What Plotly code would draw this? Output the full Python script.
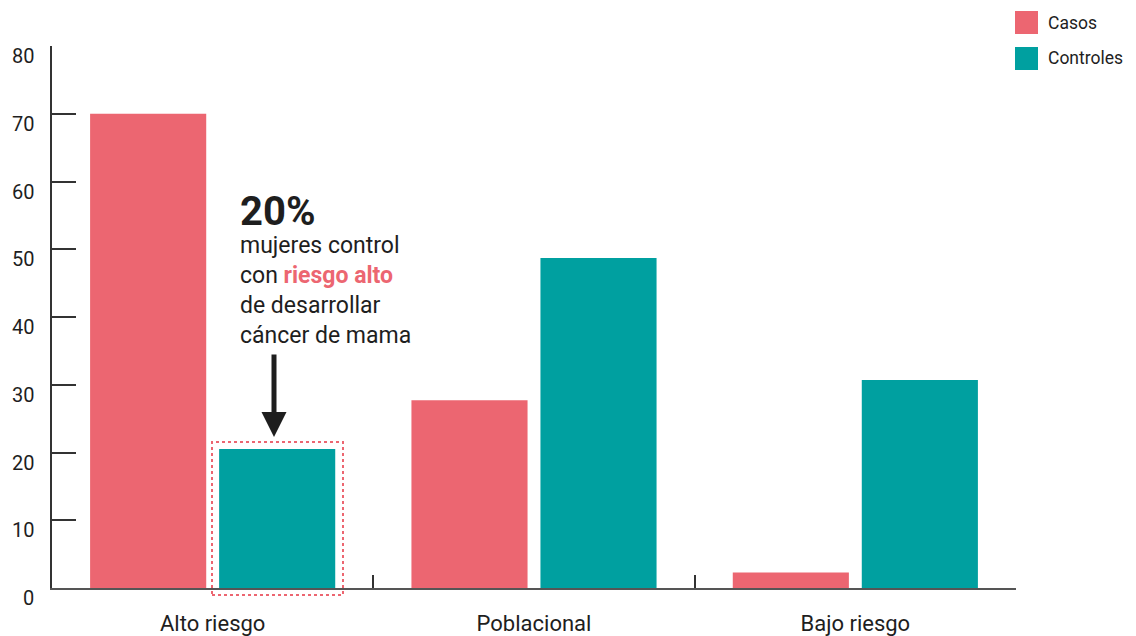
import plotly.graph_objects as go

# Data
categories = ["Alto riesgo", "Poblacional", "Bajo riesgo"]
casos = [70, 27.7, 2.3]
controles = [20.5, 48.7, 30.7]
y_ticks = [0, 10, 20, 30, 40, 50, 60, 70, 80]
series_names = ["Casos", "Controles"]

PINK = "#EC6671"
TEAL = "#00A0A0"
INK = "#1E1E1E"
FONT = "Roboto"

W, H = 1136, 636
M = dict(l=52, r=120, t=46, b=48)
PW = W - M["l"] - M["r"]
PH = H - M["t"] - M["b"]


def px(x):
    """Horizontal pixel position -> paper coordinate."""
    return (x - M["l"]) / PW


def py(y):
    """Vertical pixel position -> paper coordinate."""
    return (H - M["b"] - y) / PH


def font(size, color=INK, weight=400):
    return dict(family=FONT, size=size, color=color, weight=weight)


fig = go.Figure()
fig.add_trace(go.Bar(x=categories, y=casos, name=series_names[0],
                     marker=dict(color=PINK, line=dict(width=0)), showlegend=False))
fig.add_trace(go.Bar(x=categories, y=controles, name=series_names[1],
                     marker=dict(color=TEAL, line=dict(width=0)), showlegend=False))

annotations = []
# y tick labels sit a little below their tick marks
for v in y_ticks:
    annotations.append(dict(xref="paper", yref="y", x=0, y=v, xanchor="right",
                            yanchor="middle", xshift=-16, yshift=-10, text=str(v),
                            showarrow=False, font=font(20)))

# Callout for the high-risk control group
highlight = controles[0]
annotations.append(dict(xref="paper", yref="paper", x=px(238), y=py(212),
                        xanchor="left", yanchor="middle", showarrow=False,
                        text=f"<b>{int(highlight)}%</b>", font=font(40, weight=700)))
annotations.append(dict(xref="paper", yref="paper", x=px(238), y=py(290),
                        xanchor="left", yanchor="middle", align="left", showarrow=False,
                        text=("mujeres control<br>con <b><span style='color:%s'>riesgo alto</span></b>"
                              "<br>de desarrollar<br>cáncer de mama") % PINK,
                        font=font(23)))
annotations.append(dict(xref="paper", yref="paper", x=px(274), y=py(437),
                        ax=0, ay=-84, text="", showarrow=True, arrowhead=2,
                        arrowsize=1, arrowwidth=5, arrowcolor=INK))

# Legend
shapes = []
for i, (name, col) in enumerate(zip(series_names, [PINK, TEAL])):
    top = 11 + 36 * i
    shapes.append(dict(type="rect", xref="paper", yref="paper",
                       x0=px(1015), x1=px(1038), y0=py(top + 23), y1=py(top),
                       fillcolor=col, line=dict(width=0)))
    annotations.append(dict(xref="paper", yref="paper", x=px(1046), y=py(top + 11.5),
                            xanchor="left", yanchor="middle", text=name, showarrow=False,
                            font=font(17.5)))

# Dotted frame around the highlighted bar
shapes.append(dict(type="rect", xref="paper", yref="paper",
                   x0=px(212), x1=px(343), y0=py(595), y1=py(442),
                   line=dict(color=PINK, width=2, dash="dot"), fillcolor="rgba(0,0,0,0)"))

fig.update_layout(
    width=W, height=H, margin=M,
    paper_bgcolor="white", plot_bgcolor="white",
    barmode="group", bargap=0.197, bargroupgap=0.1,
    font=dict(family=FONT, color=INK),
    annotations=annotations, shapes=shapes,
    showlegend=False,
)
fig.update_xaxes(
    range=[-0.5, 2.5], automargin=False, showline=True, linecolor="#555555", linewidth=1.5,
    ticks="inside", tickson="boundaries", ticklen=13, tickwidth=1.5, tickcolor="#333333",
    tickfont=font(22), ticklabelstandoff=15,
    showgrid=False, zeroline=False,
)
fig.update_yaxes(
    range=[0, 80], tickvals=y_ticks, showticklabels=False, automargin=False,
    showline=True, linecolor="#333333", linewidth=1.5,
    ticks="inside", ticklen=24, tickwidth=1.5, tickcolor="#333333",
    showgrid=False, zeroline=False,
)

fig.write_html("out.html")
